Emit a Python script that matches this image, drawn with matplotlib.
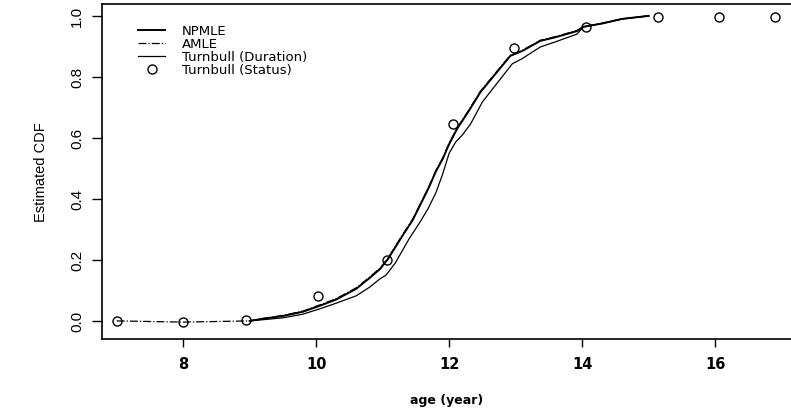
import numpy as np
import matplotlib.pyplot as plt

plt.rcParams['font.family'] = ['DejaVu Sans']
narrow = ['Liberation Sans Narrow', 'Liberation Sans']

# NPMLE (upper curve)
npmle_age = [9.0, 9.2, 9.5, 9.8, 10.06, 10.3, 10.6, 10.8, 10.96, 11.08, 11.2, 11.3,
             11.45, 11.61, 11.7, 11.8, 11.9, 12.0, 12.12, 12.3, 12.47, 12.72, 12.92,
             13.1, 13.37, 13.6, 13.92, 14.02, 14.3, 14.6, 15.0]
npmle_cdf = [0.0, 0.007, 0.016, 0.03, 0.05, 0.07, 0.105, 0.14, 0.17, 0.203, 0.245,
             0.28, 0.33, 0.40, 0.44, 0.49, 0.53, 0.58, 0.63, 0.69, 0.75, 0.816, 0.869,
             0.885, 0.918, 0.93, 0.95, 0.964, 0.975, 0.99, 1.0]

# AMLE (dash-dot, nearly on top of NPMLE)
amle_age = [7.0, 8.0, 8.5, 9.0, 9.2, 9.5, 9.8, 10.06, 10.3, 10.6, 10.8, 10.96, 11.08,
            11.2, 11.3, 11.45, 11.61, 11.7, 11.8, 11.9, 12.0, 12.12, 12.3, 12.47,
            12.72, 12.92, 13.1, 13.37, 13.6, 13.92, 14.02, 14.3, 14.6, 15.0]
amle_cdf = [0.0, -0.004, -0.002, 0.0, 0.008, 0.018, 0.032, 0.053, 0.073, 0.108,
            0.143, 0.173, 0.206, 0.248, 0.283, 0.333, 0.403, 0.443, 0.493, 0.533,
            0.583, 0.633, 0.693, 0.753, 0.819, 0.871, 0.887, 0.92, 0.932, 0.952,
            0.965, 0.976, 0.99, 1.0]

# Turnbull (Duration) (lower curve)
dur_age = [9.0, 9.2, 9.5, 9.8, 10.06, 10.3, 10.6, 10.8, 10.96, 11.05, 11.19, 11.4,
           11.55, 11.68, 11.8, 11.9, 12.0, 12.1, 12.2, 12.32, 12.5, 12.77, 12.95,
           13.1, 13.37, 13.6, 13.92, 14.02, 14.3, 14.6, 15.0]
dur_cdf = [0.0, 0.004, 0.01, 0.022, 0.04, 0.058, 0.082, 0.11, 0.138, 0.15, 0.19,
           0.27, 0.32, 0.367, 0.42, 0.48, 0.55, 0.587, 0.61, 0.645, 0.718, 0.793,
           0.843, 0.86, 0.898, 0.915, 0.94, 0.964, 0.975, 0.99, 1.0]

# Turnbull (Status) points
status_age = [7.0, 8.0, 8.95, 10.03, 11.07, 12.05, 12.98, 14.06, 15.14, 16.06, 16.9]
status_cdf = [0.0, -0.005, 0.004, 0.08, 0.2, 0.645, 0.895, 0.965, 0.997, 0.997, 0.995]

fig = plt.figure(figsize=(7.91, 4.14), dpi=100)
ax = fig.add_axes([0.129, 0.179, 0.871, 0.809])

ax.plot(npmle_age, npmle_cdf, 'k-', lw=1.4, label='NPMLE')
ax.plot(amle_age, amle_cdf, 'k-.', lw=0.9, label='AMLE')
ax.plot(dur_age, dur_cdf, 'k-', lw=0.9, label='Turnbull (Duration)')
ax.plot(status_age, status_cdf, 'o', mfc='none', mec='k', ms=6.5, mew=1.0,
        label='Turnbull (Status)')

ax.set_xlim(6.78, 17.14)
ax.set_ylim(-0.059, 1.039)
ax.set_xticks([8, 10, 12, 14, 16])
ax.set_yticks([0.0, 0.2, 0.4, 0.6, 0.8, 1.0])
ax.set_yticklabels(['0.0', '0.2', '0.4', '0.6', '0.8', '1.0'], rotation=90,
                   va='center', fontsize=11, family=narrow)
ax.tick_params(axis='x', length=6, width=1, labelsize=10.5, pad=6)
ax.tick_params(axis='y', length=7, width=1, pad=6)
for lab in ax.get_xticklabels():
    lab.set_fontweight('bold')
ax.spines['right'].set_visible(False)
for s in ['left', 'top', 'bottom']:
    ax.spines[s].set_linewidth(1.2)

ax.set_xlabel('age (year)', fontsize=9, fontweight='bold', labelpad=16)
ax.set_ylabel('Estimated CDF', fontsize=10.5, labelpad=16, family=narrow)

ax.legend(loc='upper left', bbox_to_anchor=(0.045, 0.955), frameon=False,
          fontsize=9.5, handlelength=2.0, labelspacing=0.0, handletextpad=1.3,
          borderaxespad=0)

fig.savefig('out.png', dpi=100)
